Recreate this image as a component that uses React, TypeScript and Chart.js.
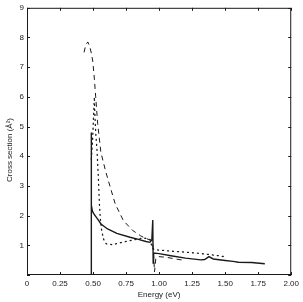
import React, { useEffect, useRef } from "react";
import { Chart, registerables } from "chart.js";

Chart.register(...registerables);

const xTicks = [0, 0.25, 0.5, 0.75, 1.0, 1.25, 1.5, 1.75, 2.0];
const yTicks = [0, 1, 2, 3, 4, 5, 6, 7, 8, 9];

const solidEnergy = [0.486, 0.486, 0.488, 0.495, 0.51, 0.535, 0.56, 0.61, 0.68, 0.78, 0.85, 0.9, 0.93, 0.945, 0.952, 0.955, 0.958, 1.0, 1.1, 1.2, 1.316, 1.345, 1.377, 1.41, 1.5, 1.56, 1.6, 1.7, 1.8];
const solidSigma = [0, 4.8, 2.35, 2.15, 2.03, 1.88, 1.72, 1.55, 1.4, 1.27, 1.19, 1.13, 1.1, 1.18, 1.85, 0.4, 0.74, 0.72, 0.64, 0.57, 0.51, 0.52, 0.62, 0.54, 0.49, 0.46, 0.43, 0.42, 0.38];

const dashedEnergy = [0.432, 0.445, 0.46, 0.475, 0.488, 0.498, 0.51, 0.52, 0.535, 0.559, 0.596, 0.632, 0.669, 0.73, 0.8, 0.86, 0.9, 0.94, 0.95, 0.957, 0.965, 0.975, 0.99, 1.05, 1.1, 1.15, 1.19];
const dashedSigma = [7.5, 7.75, 7.85, 7.7, 7.45, 7.2, 6.6, 6.0, 5.1, 4.14, 3.48, 2.93, 2.38, 1.83, 1.5, 1.32, 1.23, 1.17, 1.1, 0.8, 0.1, 0.55, 0.62, 0.6, 0.56, 0.52, 0.5];

const dottedEnergy = [0.487, 0.497, 0.505, 0.51, 0.513, 0.52, 0.53, 0.54, 0.548, 0.555, 0.565, 0.58, 0.6, 0.65, 0.7, 0.8, 0.88, 0.93, 0.95, 0.965, 1.0, 1.1, 1.2, 1.3, 1.36, 1.45, 1.49];
const dottedSigma = [3.9, 4.6, 5.5, 6.0, 5.5, 4.8, 4.2, 3.3, 2.4, 1.9, 1.5, 1.2, 1.05, 1.02, 1.08, 1.18, 1.25, 1.2, 0.9, 0.85, 0.84, 0.8, 0.77, 0.73, 0.7, 0.65, 0.62];

const xTitle = "Energy (eV)";
const yTitle = "Cross section (Å²)";

const toPoints = (xs: number[], ys: number[]) => xs.map((x, i) => ({ x, y: ys[i] }));

const INK = "#1a1a1a";
const FONT = "'Liberation Sans', Arial, sans-serif";

const framePlugin = {
  id: "frame",
  afterDraw(chart: any) {
    const { ctx, chartArea: a, scales } = chart;
    const xs = scales.x;
    const ys = scales.y;
    ctx.save();
    ctx.strokeStyle = INK;
    ctx.lineWidth = 1;
    ctx.strokeRect(a.left + 0.5, a.top + 0.5, a.right - a.left - 1, a.bottom - a.top - 1);
    const tl = 3;
    ctx.beginPath();
    xTicks.forEach((v) => {
      const px = Math.round(xs.getPixelForValue(v)) + 0.5;
      ctx.moveTo(px, a.bottom);
      ctx.lineTo(px, a.bottom - tl);
      ctx.moveTo(px, a.top);
      ctx.lineTo(px, a.top + tl);
    });
    yTicks.forEach((v) => {
      const py = Math.round(ys.getPixelForValue(v)) + 0.5;
      ctx.moveTo(a.left, py);
      ctx.lineTo(a.left + tl, py);
      ctx.moveTo(a.right, py);
      ctx.lineTo(a.right - tl, py);
    });
    ctx.stroke();
    ctx.fillStyle = INK;
    ctx.font = `8px ${FONT}`;
    ctx.textAlign = "center";
    ctx.textBaseline = "middle";
    ctx.fillText(xTitle, (a.left + a.right) / 2, 295);
    ctx.translate(10, 150);
    ctx.rotate(-Math.PI / 2);
    ctx.fillText(yTitle, 0, 0);
    ctx.restore();
  },
};

export default function App() {
  const ref = useRef<HTMLCanvasElement>(null);
  useEffect(() => {
    document.body.style.margin = "0";
    const chart = new Chart(ref.current!, {
      type: "line",
      data: {
        datasets: [
          {
            data: toPoints(solidEnergy, solidSigma),
            borderColor: INK,
            borderWidth: 1.4,
            pointRadius: 0,
            tension: 0,
          },
          {
            data: toPoints(dashedEnergy, dashedSigma),
            borderColor: INK,
            borderWidth: 1,
            borderDash: [5, 4],
            pointRadius: 0,
            tension: 0,
          },
          {
            data: toPoints(dottedEnergy, dottedSigma),
            borderColor: INK,
            borderWidth: 1.3,
            borderDash: [1, 4],
            borderCapStyle: "round",
            pointRadius: 0,
            tension: 0,
          },
        ],
      },
      options: {
        responsive: false,
        animation: false,
        layout: { padding: { top: 2, right: 2, left: 0, bottom: 0 } },
        plugins: { legend: { display: false }, tooltip: { enabled: false } },
        scales: {
          x: {
            type: "linear",
            min: 0,
            max: 2,
            afterBuildTicks: (s: any) => {
              s.ticks = xTicks.map((v) => ({ value: v }));
            },
            afterFit: (s: any) => {
              s.height = 27;
            },
            grid: { display: false, drawTicks: false },
            border: { display: false },
            ticks: {
              color: INK,
              font: { size: 8, family: FONT },
              padding: 4,
              maxRotation: 0,
              autoSkip: false,
              callback: (v: any) => (Number(v) === 0 ? "0" : Number(v).toFixed(2)),
            },
          },
          y: {
            type: "linear",
            min: 0,
            max: 9,
            afterBuildTicks: (s: any) => {
              s.ticks = yTicks.map((v) => ({ value: v }));
            },
            afterFit: (s: any) => {
              s.width = 27;
            },
            grid: { display: false, drawTicks: false },
            border: { display: false },
            ticks: {
              color: INK,
              font: { size: 8, family: FONT },
              padding: 3,
              autoSkip: false,
              callback: (v: any) => (Number(v) === 0 ? "" : String(v)),
            },
          },
        },
      },
      plugins: [framePlugin],
    });
    return () => chart.destroy();
  }, []);
  return (
    <div style={{ width: 303, height: 302, background: "#fff" }}>
      <canvas ref={ref} width={303} height={302} />
    </div>
  );
}
